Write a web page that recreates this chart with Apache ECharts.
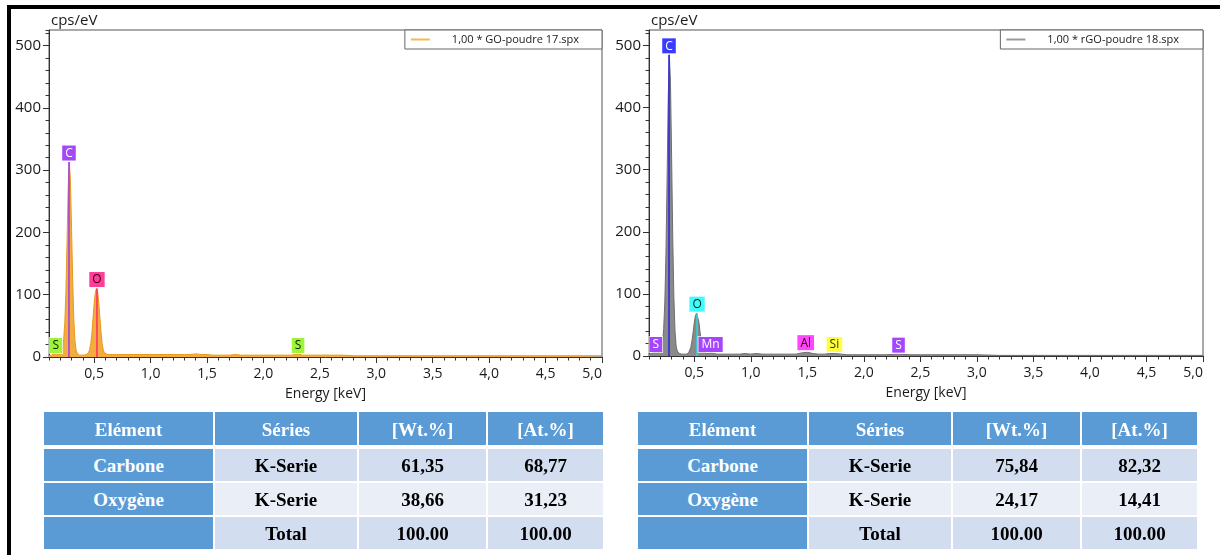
<!DOCTYPE html>
<html><head><meta charset="utf-8">
<script src="https://cdn.jsdelivr.net/npm/echarts@6.0.0/dist/echarts.min.js"></script>
<style>
html,body{margin:0;padding:0;background:#fff;}
#wrap{position:relative;width:1220px;height:555px;overflow:hidden;background:#fff;}
#chart{position:absolute;left:0;top:0;width:1220px;height:555px;}
#frameTop{position:absolute;left:7px;top:5px;width:1213px;height:4px;background:#000;}
#frameLeft{position:absolute;left:7px;top:5px;width:4px;height:550px;background:#000;}
.tbl{position:absolute;top:412px;height:137px;width:559px;}
.cell{position:absolute;display:flex;align-items:center;justify-content:center;font-family:'Liberation Serif','Times New Roman',serif;font-weight:bold;font-size:19px;color:#000;padding-top:2px;box-sizing:border-box;}
.cell.head{color:#fff;background:#5B9BD5;}
</style></head>
<body>
<div id="wrap">
  <div id="chart"></div>
  <div id="frameTop"></div>
  <div id="frameLeft"></div>
  <div id="tblGO" class="tbl" style="left:44px"></div>
  <div id="tblRGO" class="tbl" style="left:638px"></div>
</div>
<script>
// ---------- DATA ----------
const xMajorTicks = [0.5, 1.0, 1.5, 2.0, 2.5, 3.0, 3.5, 4.0, 4.5, 5.0];
const yMajorTicks = [0, 100, 200, 300, 400, 500];
const goName = '1,00 * GO-poudre 17.spx';
const rgoName = '1,00 * rGO-poudre 18.spx';

const goSpectrum = [[0.10,2],[0.11,3],[0.12,3],[0.13,4],[0.14,5],[0.15,6],[0.16,6],[0.17,5],[0.18,4],[0.19,5],[0.20,6],[0.21,9],[0.22,15],[0.23,28],[0.24,55],[0.25,105],[0.26,185],[0.27,272],[0.28,313],[0.29,282],[0.30,205],[0.31,122],[0.32,60],[0.33,26],[0.34,11],[0.35,6],[0.36,4],[0.37,3],[0.38,3],[0.39,3],[0.40,3],[0.41,3],[0.42,3],[0.43,4],[0.44,5],[0.45,7],[0.46,12],[0.47,21],[0.48,38],[0.49,62],[0.50,86],[0.51,103],[0.52,110],[0.53,106],[0.54,90],[0.55,66],[0.56,42],[0.57,23],[0.58,12],[0.59,7],[0.60,5],[0.62,4],[0.64,4],[0.66,4],[0.68,4],[0.70,4],[0.75,4],[0.80,4],[0.85,4],[0.90,4],[0.95,4],[1.00,4],[1.05,4],[1.10,4],[1.15,4],[1.20,4],[1.25,4],[1.30,4],[1.35,4],[1.40,5],[1.45,4],[1.50,4],[1.55,3],[1.60,3],[1.65,3],[1.70,3],[1.75,4],[1.80,3],[1.90,3],[2.00,3],[2.10,3],[2.20,3],[2.25,3],[2.30,5],[2.35,3],[2.40,3],[2.50,3],[2.60,3],[2.70,3],[2.80,2],[3.00,2],[3.20,2],[3.40,2],[3.60,2],[3.80,2],[4.00,2],[4.20,2],[4.40,2],[4.60,2],[4.80,2],[5.00,2]];

const rgoSpectrum = [[0.10,3],[0.11,3],[0.12,4],[0.13,5],[0.14,6],[0.15,7],[0.16,7],[0.17,6],[0.18,5],[0.19,6],[0.20,8],[0.21,12],[0.22,22],[0.23,44],[0.24,88],[0.25,165],[0.26,285],[0.27,415],[0.28,485],[0.29,440],[0.30,320],[0.31,190],[0.32,95],[0.33,40],[0.34,16],[0.35,8],[0.36,5],[0.37,4],[0.38,3],[0.39,3],[0.40,3],[0.41,3],[0.42,3],[0.43,3],[0.44,4],[0.45,5],[0.46,8],[0.47,14],[0.48,24],[0.49,38],[0.50,53],[0.51,64],[0.52,69],[0.53,66],[0.54,56],[0.55,41],[0.56,26],[0.57,15],[0.58,9],[0.59,6],[0.60,5],[0.61,4],[0.62,4],[0.63,5],[0.64,5],[0.65,5],[0.66,5],[0.67,4],[0.68,4],[0.69,3],[0.70,3],[0.75,3],[0.80,3],[0.85,3],[0.90,3],[0.95,4],[1.00,3],[1.05,4],[1.10,3],[1.15,3],[1.20,3],[1.25,3],[1.30,3],[1.35,3],[1.40,3],[1.45,5],[1.50,6],[1.55,4],[1.60,3],[1.65,3],[1.70,4],[1.75,4],[1.80,3],[1.85,2],[1.90,2],[2.00,2],[2.10,2],[2.20,2],[2.30,3],[2.40,2],[2.50,2],[2.60,2],[2.80,2],[3.00,2],[3.20,1],[3.40,1],[3.60,1],[3.80,1],[4.00,1],[4.20,1],[4.40,1],[4.60,1],[4.80,1],[5.00,1]];

// element marker lines: [element, energy keV, peak height]
const goLines = [['C',0.277,313],['O',0.525,110]];
const rgoLines = [['C',0.277,485],['O',0.525,69]];
// element labels: [element, energy keV, anchor height]
const goLabels = [['C',0.277,313],['O',0.525,110],['S',0.16,4],['S',2.307,4]];
const rgoLabels = [['C',0.277,485],['O',0.525,69],['S',0.16,4],['Mn',0.645,4],['Al',1.486,7],['Si',1.74,4],['S',2.307,3]];

const tableHeader = ['Elément','Séries','[Wt.%]','[At.%]'];
const goRows = [['Carbone','K-Serie','61,35','68,77'],['Oxygène','K-Serie','38,66','31,23'],['','Total','100.00','100.00']];
const rgoRows = [['Carbone','K-Serie','75,84','82,32'],['Oxygène','K-Serie','24,17','14,41'],['','Total','100.00','100.00']];

// ---------- STYLES ----------
const goLineColors = {C:'#9B3DE8', O:'#FF2A6A'};
const rgoLineColors = {C:'#2626E6', O:'#22DDDD'};
const goBoxStyle = {C:['#A347F7','#ffffff'], O:['#FF3D9A','#330000'], S:['#9CF53A','#112200']};
const rgoBoxStyle = {C:['#3B3BFF','#ffffff'], O:['#3DFDFD','#002222'], S:['#A545FF','#ffffff'], Mn:['#A545FF','#ffffff'], Al:['#FF45FF','#330000'], Si:['#FFFF3D','#333300']};

const FONT = 'Open Sans';
const fmtX = v => v.toFixed(1).replace('.', ',');

function majorX(grid){
  return {type:'value', gridIndex:grid, position:'bottom', min:0.1, max:5,
    name:'Energy [keV]', nameLocation:'middle', nameGap:30,
    nameTextStyle:{fontSize:14, color:'#1a1a1a', fontFamily:FONT},
    axisLine:{show:true, onZero:false, lineStyle:{color:'#333', width:1}},
    axisTick:{show:true, length:6, customValues:xMajorTicks, lineStyle:{color:'#333'}},
    axisLabel:{customValues:xMajorTicks, formatter:fmtX, margin:10, fontSize:14, color:'#1a1a1a', fontFamily:FONT, alignMaxLabel:'right'},
    splitLine:{show:false}};
}
function minorX(grid){
  return {type:'value', gridIndex:grid, position:'bottom', min:0.1, max:5, interval:0.1,
    axisLine:{show:false}, axisLabel:{show:false}, splitLine:{show:false},
    axisTick:{show:true, length:3.5, lineStyle:{color:'#333'}}};
}
function majorY(grid){
  return {type:'value', gridIndex:grid, position:'left', min:0, max:525,
    name:'cps/eV', nameLocation:'end', nameGap:2,
    nameTextStyle:{fontSize:15, color:'#1a1a1a', fontFamily:FONT, align:'left', verticalAlign:'bottom', padding:[0,0,0,2]},
    axisLine:{show:true, onZero:false, lineStyle:{color:'#333', width:1}},
    axisTick:{show:true, length:6, customValues:yMajorTicks, lineStyle:{color:'#333'}},
    axisLabel:{customValues:yMajorTicks, margin:8, fontSize:15, color:'#1a1a1a', fontFamily:FONT},
    splitLine:{show:false}};
}
function minorY(grid){
  return {type:'value', gridIndex:grid, position:'left', min:0, max:525, interval:20,
    axisLine:{show:false}, axisLabel:{show:false}, splitLine:{show:false},
    axisTick:{show:true, length:3.5, lineStyle:{color:'#333'}}};
}
function lineSeries(lines, colors, axis){
  return lines.map(l => ({type:'line', xAxisIndex:axis, yAxisIndex:axis, silent:true, symbol:'none', z:4,
    data:[[l[1],0],[l[1],l[2]]], lineStyle:{color:colors[l[0]], width:1.5}}));
}
function labelSeries(labels, styles, axis){
  return {type:'scatter', xAxisIndex:axis, yAxisIndex:axis, silent:true, symbolSize:1, z:6,
    itemStyle:{color:'rgba(0,0,0,0)'},
    label:{show:true, position:'top', distance:1, formatter:'{b}', fontSize:12, lineHeight:12, fontFamily:FONT,
      padding:[2,3,1,3], borderColor:'rgba(255,255,255,0.7)', borderWidth:1, opacity:1},
    data: labels.map(l => ({name:l[0], value:[l[1], l[2]],
      label:{backgroundColor:styles[l[0]][0], color:styles[l[0]][1]}}))};
}
function legendCfg(name, right, padRight, color){
  return {data:[name], right:right, top:30, orient:'horizontal', backgroundColor:'#fff',
    borderColor:'#666', borderWidth:1, borderRadius:0, padding:[4,padRight,4,6],
    itemWidth:19, itemHeight:2, icon:'rect', selectedMode:false,
    itemStyle:{color:color},
    textStyle:{fontSize:11, color:'#1a1a1a', fontFamily:FONT, padding:[0,0,0,17]}};
}

const chart = echarts.init(document.getElementById('chart'), null, {renderer:'canvas'});
chart.setOption({
  animation:false,
  backgroundColor:'transparent',
  grid:[
    {left:49, top:30, width:553, height:327, show:true, borderColor:'#555', borderWidth:1, backgroundColor:'#fff'},
    {left:649, top:30, width:554, height:326, show:true, borderColor:'#555', borderWidth:1, backgroundColor:'#fff'}
  ],
  legend:[legendCfg(goName, 618, 23, '#F7B84E'), legendCfg(rgoName, 17, 24, '#9a9a9a')],
  xAxis:[majorX(0), minorX(0), majorX(1), minorX(1)],
  yAxis:[majorY(0), minorY(0), majorY(1), minorY(1)],
  series:[
    {name:goName, type:'line', xAxisIndex:0, yAxisIndex:0, data:goSpectrum, symbol:'none', z:2,
      lineStyle:{color:'#E9981C', width:1}, areaStyle:{color:'#F3AD3E', opacity:1}},
    ...lineSeries(goLines, goLineColors, 0),
    labelSeries(goLabels, goBoxStyle, 0),
    {name:rgoName, type:'line', xAxisIndex:2, yAxisIndex:2, data:rgoSpectrum, symbol:'none', z:2,
      lineStyle:{color:'#6e6e6e', width:1}, areaStyle:{color:'#8a8a8a', opacity:1}},
    ...lineSeries(rgoLines, rgoLineColors, 2),
    labelSeries(rgoLabels, rgoBoxStyle, 2)
  ]
});

// ---------- TABLES ----------
const colX = [0, 171, 315, 444];
const colW = [169, 142, 127, 115];
const rowY = [0, 37, 71, 105];
const rowH = [33, 32, 32, 32];
const rowBg = ['#D2DEEF', '#EAEFF7', '#D2DEEF'];
function buildTable(id, rows){
  const el = document.getElementById(id);
  const all = [tableHeader].concat(rows);
  all.forEach((row, r) => {
    row.forEach((txt, c) => {
      const d = document.createElement('div');
      d.className = 'cell' + ((r === 0 || c === 0) ? ' head' : '');
      d.style.left = colX[c] + 'px';
      d.style.top = rowY[r] + 'px';
      d.style.width = colW[c] + 'px';
      d.style.height = rowH[r] + 'px';
      if (!(r === 0 || c === 0)) d.style.background = rowBg[r - 1];
      d.textContent = txt;
      el.appendChild(d);
    });
  });
}
buildTable('tblGO', goRows);
buildTable('tblRGO', rgoRows);
</script>
</body></html>
